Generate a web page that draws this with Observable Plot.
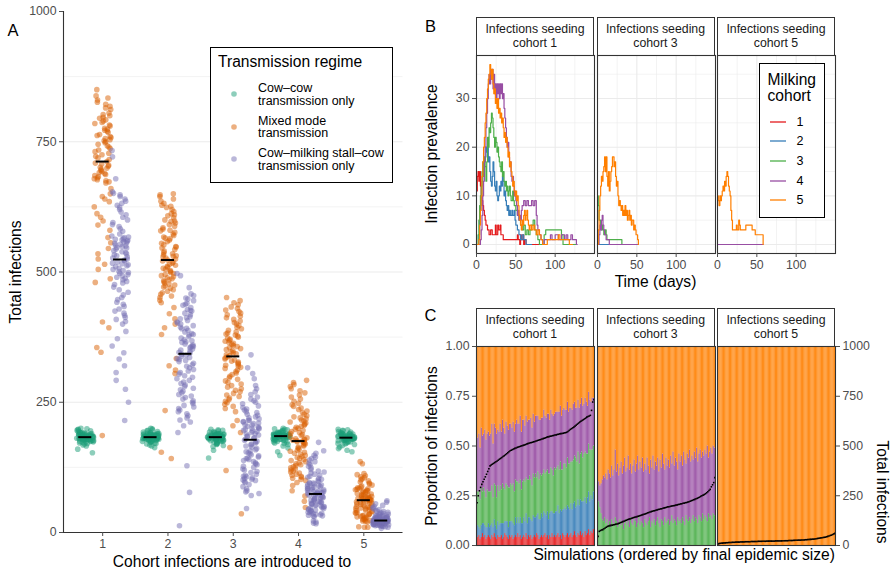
<!DOCTYPE html>
<html lang="en">
<head>
<meta charset="utf-8">
<title>Transmission between milking cohorts</title>
<script src="https://cdn.jsdelivr.net/npm/d3@7"></script>
<script src="https://cdn.jsdelivr.net/npm/@observablehq/plot@0.6"></script>
<style>
  html, body { margin: 0; padding: 0; background: #fff; }
  #fig { position: relative; width: 896px; height: 573px; overflow: hidden; background: #fff;
         font-family: "Liberation Sans", Arial, Helvetica, sans-serif; color: #000; }
  .pos { position: absolute; }
  .pos svg { overflow: visible; display: block; }
  .txt { position: absolute; white-space: nowrap; line-height: 1; }
  .strip { position: absolute; box-sizing: border-box; border: 1px solid #333; background: #fff;
           color: #1a1a1a; font-size: 12.3px; line-height: 14px; text-align: center;
           display: flex; flex-direction: column; justify-content: center; }
  .legend { position: absolute; box-sizing: border-box; border: 1.3px solid #000; background: #fff; }
</style>
</head>
<body>
<div id="fig"></div>
<script>
// ---------- Panel A: total infections per simulation ----------
const cohorts = [1, 2, 3, 4, 5];
const regimes = ["Cow–cow transmission only", "Mixed mode transmission", "Cow–milking stall–cow transmission only"];
const regimeColors = ["#1B9E77", "#D95F02", "#7570B3"];

const cowCowC1 = [153,160,166,168,170,171,172,173,174,174,175,175,176,176,177,177,178,178,178,179,179,179,180,180,180,181,181,181,182,182,182,183,183,183,183,184,184,184,184,185,185,185,186,186,186,187,187,187,188,188,188,189,189,190,190,191,191,192,192,193,194,195,196,197,198,199,200,186,183,181];
const cowCowC2 = [163,166,168,170,171,172,173,174,175,175,176,176,177,177,178,178,179,179,179,180,180,180,181,181,181,182,182,182,183,183,183,184,184,184,184,185,185,185,186,186,186,187,187,187,188,188,189,189,190,190,191,191,192,193,194,195,196,197,199,200,183,185,182,184,186,181,187,188,180,179];
const cowCowC3 = [143,158,165,167,169,170,171,172,173,174,175,175,176,176,177,177,178,178,179,179,180,180,180,181,181,181,182,182,182,183,183,183,184,184,184,185,185,185,186,186,186,187,187,187,188,188,189,189,190,190,191,192,193,194,195,196,197,198,184,182,185,183,186,181,187,188];
const cowCowC4 = [148,155,162,166,169,171,172,173,174,175,176,177,177,178,178,179,179,180,180,181,181,182,182,183,183,183,184,184,184,185,185,185,186,186,186,187,187,187,188,188,188,189,189,190,190,191,191,192,192,193,194,195,196,197,198,199,200,185,186,184,187,183,188,189];
const cowCowC5 = [155,158,161,164,167,169,170,171,172,173,174,175,176,176,177,177,178,178,179,179,180,180,180,181,181,181,182,182,182,183,183,183,184,184,184,185,185,185,186,186,187,187,188,188,189,189,190,190,191,192,193,194,195,196,197,198,182,181,183,184,180,185,179];

const mixedC1 = [850,838,834,830,826,822,818,815,812,805,802,800,797,795,792,790,787,785,782,780,776,774,772,770,768,764,762,760,758,756,754,752,750,748,745,742,740,737,734,731,728,725,722,719,716,712,709,707,705,703,701,699,697,695,693,691,689,687,685,683,681,679,677,675,673,671,660,650,645,640,635,625,612,605,598,590,580,566,556,545,535,525,515,505,487,480,404,393,355,346,186];
const mixedC2 = [650,648,645,640,636,632,628,626,624,620,616,612,610,608,604,600,598,597,594,591,588,585,582,580,579,576,573,570,567,565,564,561,558,555,552,549,548,546,543,540,537,535,533,531,530,529,527,525,523,521,519,517,515,513,511,509,507,505,503,501,499,497,495,493,491,489,487,485,483,481,479,477,475,473,471,469,466,463,460,457,454,451,446,441,432,420,410,400,393,380,334,320,312,305,234,154,142];
const mixedC3 = [451,445,441,437,433,430,427,424,421,418,415,412,409,406,403,400,397,394,391,388,385,383,381,379,377,375,373,371,369,367,365,363,361,359,357,355,353,351,349,347,345,343,341,339,337,335,333,331,329,327,325,323,321,319,317,315,312,309,306,303,300,297,294,291,288,285,282,279,276,273,270,267,264,261,258,255,252,249,246,242,238,232,215,205,192,163,119,36];
const mixedC4 = [292,288,284,280,276,272,268,264,260,256,252,248,245,242,239,236,233,230,227,224,222,220,218,216,214,212,210,208,206,204,202,200,198,196,194,192,190,188,186,184,182,180,179,178,177,176,175,174,173,172,170,168,166,164,162,160,158,156,154,152,150,148,146,144,142,140,138,136,134,132,130,128,126,124,122,120,118,116,114,112,110,108,106,104,102,100,96,90,80,70,60,48];
const mixedC5 = [136,132,113,111,109,107,105,103,101,99,97,95,93,91,89,87,86,85,84,83,82,81,80,79,78,77,76,75,74,73,72,71,70,69,68,67,67,66,66,65,65,64,64,63,63,62,62,61,60,59,58,57,56,55,54,53,52,51,50,49,48,47,46,45,44,43,42,41,40,39,38,37,36,35,34,33,32,31,30,29,28,27,26,25,24,23,22,21,20,11,10,10];

const milkC1 = [215,250,275,292,307,320,333,345,358,372,386,400,405,409,413,417,421,425,429,434,438,442,447,451,456,461,466,471,476,479,482,485,488,490,493,495,497,499,501,503,505,507,510,512,514,516,517,519,521,523,525,527,529,531,533,535,537,539,541,544,546,547,549,550,552,553,555,556,558,559,561,562,563,564,566,567,569,573,578,583,587,591,595,600,605,610,615,620,624,628,632,636,640,645,648,651,654,679,721,733];
const milkC2 = [497,493,470,458,455,450,448,445,440,438,436,432,428,426,425,421,418,414,412,410,407,404,402,400,397,394,392,391,388,385,382,380,379,376,373,370,368,366,365,362,360,358,357,356,354,352,350,348,346,344,342,340,338,336,334,332,330,328,325,322,319,316,313,310,307,304,301,298,295,292,289,286,283,280,277,274,271,268,265,262,259,256,253,250,247,244,241,238,235,232,228,224,220,216,212,205,192,128,77,13];
const milkC3 = [46,71,75,78,80,84,88,92,96,98,100,101,102,104,105,107,108,110,112,115,117,120,122,125,127,130,132,134,136,138,140,142,143,145,147,149,151,153,155,157,159,161,164,166,168,170,172,174,175,177,179,181,182,184,185,187,189,190,192,194,195,196,198,199,200,201,203,204,206,207,209,210,212,213,215,216,218,220,222,225,227,230,232,235,237,240,243,247,250,253,256,260,265,270,276,282,295,305,316,341];
const milkC4 = [173,157,152,148,145,142,139,136,133,130,127,124,121,118,116,114,112,110,108,106,104,102,100,98,96,95,94,93,92,91,90,89,88,87,86,85,84,83,82,81,80,79,78,77,77,76,76,75,74,73,72,71,70,69,68,67,66,65,64,63,62,61,60,59,58,57,56,55,54,53,52,51,50,49,48,47,46,45,44,43,42,41,40,39,38,37,36,35,34,33,32,31,30,22,20,18,17];
const milkC5 = [8,10,11,12,12,13,13,14,14,15,15,15,16,16,16,17,17,17,17,18,18,18,18,19,19,19,19,19,20,20,20,20,20,20,21,21,21,21,21,21,21,22,22,22,22,22,22,22,22,23,23,23,23,23,23,24,24,24,24,24,25,25,25,25,26,26,26,26,27,27,27,28,28,28,29,29,30,30,31,31,32,32,33,34,35,36,37,38,39,40,41,42,44,46,48,50,52,55,58,61];

// ---------- Panel B: infection prevalence by milking cohort, [day, prevalence] steps ----------
const cohortColors = ["#E41A1C", "#377EB8", "#4DAF4A", "#984EA3", "#FF7F00"];
const seed1Cohort1 = [[0,11],[1,14],[2,15],[3,13],[4,15],[5,12],[6,10],[7,9],[8,8],[9,7],[10,6],[11,5],[12,4],[14,3],[16,2],[18,3],[20,2],[23,2],[24,4],[25,2],[27,4],[28,3],[30,4],[31,2],[34,1],[52,2],[53,1],[55,0],[56,2],[57,1],[59,2],[60,0],[61,1],[63,0],[85,0]];
const seed1Cohort2 = [[0,0],[3,2],[4,5],[5,8],[6,10],[7,13],[8,15],[9,14],[10,17],[11,18],[12,20],[13,19],[14,20],[15,17],[16,18],[17,15],[18,13],[19,12],[20,14],[21,17],[22,15],[23,12],[24,11],[25,13],[26,10],[27,9],[28,10],[29,12],[30,11],[31,13],[32,12],[33,14],[34,13],[35,10],[36,11],[37,9],[38,8],[39,7],[40,8],[41,6],[42,7],[43,6],[45,7],[46,6],[48,7],[49,5],[50,4],[52,3],[54,2],[56,1],[58,2],[60,1],[63,0],[70,0]];
const seed1Cohort3 = [[0,0],[2,2],[3,5],[4,8],[5,10],[6,12],[7,15],[8,17],[9,14],[10,18],[11,16],[12,13],[13,17],[14,22],[15,20],[16,24],[17,23],[18,25],[19,27],[20,26],[21,24],[22,22],[23,20],[24,22],[25,21],[26,19],[27,20],[28,18],[29,17],[30,16],[31,15],[32,17],[33,14],[34,15],[35,13],[36,12],[37,13],[38,11],[39,12],[40,10],[41,11],[42,12],[43,10],[44,9],[46,11],[47,9],[48,8],[50,7],[52,6],[54,5],[56,4],[58,3],[60,4],[62,2],[64,3],[66,2],[68,3],[70,4],[72,5],[74,3],[76,2],[78,1],[80,0],[86,2],[88,3],[108,2],[110,0],[127,0]];
const seed1Cohort4 = [[0,0],[5,1],[6,3],[7,6],[8,10],[9,13],[10,17],[11,20],[12,24],[13,27],[14,30],[15,33],[16,35],[17,33],[18,36],[19,34],[20,36],[21,32],[22,35],[23,31],[24,33],[25,30],[26,33],[27,31],[28,33],[29,30],[30,33],[31,31],[32,33],[33,30],[34,31],[35,28],[36,26],[37,24],[38,22],[39,20],[40,21],[41,18],[42,16],[43,17],[44,14],[45,13],[46,14],[47,12],[48,10],[49,11],[50,9],[51,8],[52,6],[53,7],[54,5],[55,6],[56,5],[57,7],[58,8],[60,9],[62,8],[64,9],[66,8],[70,9],[72,8],[74,9],[76,6],[77,4],[78,3],[80,2],[82,1],[84,0],[86,1],[94,2],[96,1],[100,2],[104,1],[108,2],[112,1],[114,2],[116,1],[120,2],[122,1],[127,0],[128,0]];
const seed1Cohort5 = [[0,0],[3,1],[4,4],[5,7],[6,10],[7,14],[8,17],[9,20],[10,22],[11,25],[12,27],[13,30],[14,32],[15,34],[16,35],[17,37],[18,36],[19,34],[20,36],[21,33],[22,31],[23,32],[24,29],[25,30],[26,28],[27,30],[28,27],[29,28],[30,26],[31,27],[32,25],[33,26],[34,24],[35,22],[36,23],[37,21],[38,22],[39,20],[40,18],[41,19],[42,16],[43,17],[44,15],[45,14],[46,12],[47,13],[48,11],[49,10],[50,11],[51,9],[52,10],[53,8],[54,6],[55,5],[56,4],[57,3],[58,5],[59,4],[60,6],[61,7],[62,5],[63,6],[64,7],[65,5],[66,4],[67,3],[68,4],[70,3],[72,4],[74,3],[76,2],[78,3],[80,2],[82,1],[84,0],[90,1],[100,1],[104,2],[106,1],[116,1],[118,0],[122,0]];

const seed3Cohort1 = [[0,0],[15,0]];
const seed3Cohort2 = [[0,0],[16,0]];
const seed3Cohort3 = [[0,10],[1,8],[2,5],[4,4],[5,3],[6,4],[7,3],[8,2],[10,3],[11,2],[12,1],[31,0],[32,0]];
const seed3Cohort4 = [[0,0],[2,2],[3,4],[4,3],[5,5],[6,6],[7,4],[8,3],[9,2],[11,1],[15,0],[52,0]];
const seed3Cohort5 = [[0,0],[1,3],[2,7],[3,10],[4,12],[5,14],[6,13],[7,15],[8,16],[9,18],[10,15],[11,18],[12,14],[13,12],[14,15],[15,11],[16,13],[17,15],[18,16],[19,18],[20,18],[21,16],[22,17],[23,14],[24,12],[25,13],[26,10],[27,8],[28,9],[29,8],[30,7],[31,8],[32,6],[33,7],[34,6],[35,8],[36,6],[37,7],[38,5],[39,6],[40,7],[41,5],[42,6],[43,4],[44,5],[46,3],[47,4],[48,3],[49,2],[51,1],[52,0]];

const seed5Cohort4 = [[0,0],[58,0]];
const seed5Cohort5 = [[0,10],[1,9],[2,8],[3,10],[4,9],[5,10],[6,11],[7,12],[8,11],[9,13],[10,12],[11,14],[12,15],[13,14],[14,12],[15,11],[16,10],[17,7],[18,5],[19,3],[24,4],[25,3],[27,5],[28,4],[29,3],[36,4],[44,3],[48,2],[57,2],[58,0]];

// ---------- Panel C: share of infections (%) by milking cohort, simulations ordered by size ----------
const seed1Share1 = [5,4,5,3,4,6,4,5,3,4,5,4,3,5,4,6,4,3,5,4,4,5,3,4,6,5,4,3,5,4,5,3,4,5,4,6,4,5,3,4,5,4,6,3,5,4,5,3,4,5,4,6,5,3,4,5,4,5,6,4,5,3,5,4,6,4,5,4,5,6,4,5,3,6,5,4,5,6,4,5,6,4,5,7,5,4,6,5,7,5,6,4,7,5,6,8,5,7,6,8];
const seed1Share2 = [5,6,4,5,6,5,7,5,6,5,6,5,7,6,5,7,6,5,7,6,7,6,8,7,6,7,8,6,7,8,7,8,6,9,7,8,7,9,8,7,9,8,10,8,9,10,8,9,11,9,10,9,11,10,9,11,10,12,10,11,12,10,11,13,11,12,11,13,12,14,12,13,14,12,13,15,13,14,15,13,15,14,16,15,14,16,17,15,16,17,16,18,17,16,18,19,17,18,17,19];
const seed1Share3 = [8,17,18,15,19,16,18,17,15,19,16,18,17,19,15,18,20,16,18,17,19,17,20,18,16,19,18,20,17,19,18,20,17,19,21,18,20,19,17,21,19,20,18,22,19,21,20,18,21,20,22,19,21,20,23,19,22,21,20,22,21,23,20,22,21,19,23,21,22,20,22,24,21,20,23,22,21,24,22,23,21,24,22,23,25,22,24,21,23,25,22,24,23,25,22,24,26,23,25,23];
const seed1Share4 = [28,27,29,26,30,28,27,31,29,28,30,28,29,31,27,30,29,32,28,30,31,29,32,30,28,31,30,29,32,30,29,31,30,28,31,29,30,32,29,31,30,28,31,29,30,28,31,29,30,28,29,31,28,30,27,29,28,30,29,27,28,30,27,29,28,30,27,29,28,27,29,28,27,30,28,27,29,28,26,28,27,26,28,27,25,27,26,28,25,27,26,25,27,26,24,26,25,24,26,24];
const seed3Share3 = [25,22,19,16,13,12,14,11,13,10,12,9,13,11,10,14,12,9,11,13,10,12,8,11,13,10,12,9,14,11,10,13,12,9,11,14,10,12,11,9,13,11,10,12,14,9,12,11,13,10,12,14,11,9,13,12,10,14,11,12,13,10,12,15,11,13,12,10,14,12,13,11,14,12,10,15,13,12,14,11,13,15,12,14,13,11,15,14,12,16,13,15,14,12,16,14,15,13,16,15];
const seed3Share4 = [6,10,11,15,20,23,20,25,20,28,24,25,27,24,28,34,25,32,24,26,32,24,32,33,24,29,33,29,27,25,30,30,25,32,34,24,32,27,33,28,28,27,34,28,22,34,27,34,25,32,28,30,26,34,26,34,31,24,33,28,30,29,33,26,36,27,32,32,24,34,29,34,26,35,33,26,33,32,34,31,32,28,35,30,36,31,31,34,32,31,32,33,32,38,28,33,34,33,34,34];

const facetLabels = ["Infections seeding\ncohort 1", "Infections seeding\ncohort 3", "Infections seeding\ncohort 5"];

// ---------- layout helpers ----------
const fig = document.getElementById("fig");
const FONT = '"Liberation Sans", Arial, Helvetica, sans-serif';
const plotStyle = {background: "none", overflow: "visible", fontFamily: FONT, fontSize: "12.3px", color: "#4d4d4d"};
const GRID = "#ebebeb";

function place(node, left, top) {
  const d = document.createElement("div");
  d.className = "pos";
  d.style.left = left + "px";
  d.style.top = top + "px";
  d.appendChild(node);
  fig.appendChild(d);
  return d;
}
function label(str, x, y, {size = 15.6, rotate = 0, anchor = "middle", color = "#000"} = {}) {
  const t = document.createElement("div");
  t.className = "txt";
  t.textContent = str;
  t.style.left = x + "px";
  t.style.top = y + "px";
  t.style.fontSize = size + "px";
  t.style.color = color;
  const tx = anchor === "start" ? "0" : anchor === "end" ? "-100%" : "-50%";
  t.style.transform = `translate(${tx}, -50%)` + (rotate ? ` rotate(${rotate}deg)` : "");
  fig.appendChild(t);
  return t;
}
function strip(text, left, top, width, height) {
  const s = document.createElement("div");
  s.className = "strip";
  Object.assign(s.style, {left: left + "px", top: top + "px", width: width + "px", height: height + "px"});
  for (const line of text.split("\n")) {
    const l = document.createElement("div");
    l.textContent = line;
    s.appendChild(l);
  }
  fig.appendChild(s);
}
function keySvg(w, h, draw) {
  const ns = "http://www.w3.org/2000/svg";
  const svg = document.createElementNS(ns, "svg");
  svg.setAttribute("width", w);
  svg.setAttribute("height", h);
  const el = document.createElementNS(ns, draw.tag);
  for (const [k, v] of Object.entries(draw.attrs)) el.setAttribute(k, v);
  svg.appendChild(el);
  return svg;
}

// deterministic horizontal spread of points inside each dodged group
function spread(i, g) {
  const s = Math.sin((i + 1) * 12.9898 + g * 78.233) * 43758.5453;
  return s - Math.floor(s) - 0.5;
}

// ---------- Panel A ----------
const groupsA = [
  [cowCowC1, cowCowC2, cowCowC3, cowCowC4, cowCowC5],
  [mixedC1, mixedC2, mixedC3, mixedC4, mixedC5],
  [milkC1, milkC2, milkC3, milkC4, milkC5]
];
const dodge = 0.8 / 3;
const aRows = [], aMedians = [];
groupsA.forEach((byCohort, r) => {
  byCohort.forEach((values, ci) => {
    const center = cohorts[ci] + (r - 1) * dodge;
    values.forEach((v, i) => aRows.push({regime: r, cohort: cohorts[ci], total: v, x: center + spread(i, r * 5 + ci) * 0.26}));
    aMedians.push({regime: r, x: center, median: d3.median(values)});
  });
});

const A = {left: 62.5, top: 11, width: 339.5, height: 521};
place(Plot.plot({
  width: A.width, height: A.height, margin: 0, style: plotStyle,
  x: {domain: [0.4, 5.6], axis: null},
  y: {domain: [0, 1000], axis: null},
  color: {type: "ordinal", domain: [0, 1, 2], range: regimeColors},
  marks: [
    Plot.ruleY([125, 375, 625, 875], {stroke: GRID, strokeWidth: 0.6}),
    Plot.ruleY([250, 500, 750], {stroke: GRID, strokeWidth: 1.1}),
    Plot.dot(aRows, {x: "x", y: "total", fill: "regime", r: 2.8, fillOpacity: 0.5}),
    Plot.ruleY(aMedians, {y: "median", x1: d => d.x - 0.1, x2: d => d.x + 0.1, stroke: "#000", strokeWidth: 2}),
    Plot.ruleX([0.4], {stroke: "#333", strokeWidth: 1.1}),
    Plot.ruleY([0], {stroke: "#333", strokeWidth: 1.1}),
    Plot.axisY({ticks: [0, 250, 500, 750, 1000], tickFormat: d => String(d), tickSize: 4, tickPadding: 3, label: null}),
    Plot.axisX({ticks: cohorts, tickFormat: d => String(d), tickSize: 4, tickPadding: 3, label: null})
  ]
}), A.left, A.top);

label("A", 13, 29.5, {size: 16.5});
label("Total infections", 16, 271.5, {rotate: -90});
label("Cohort infections are introduced to", 232, 561.5);

// legend for panel A
const legA = document.createElement("div");
legA.className = "legend";
Object.assign(legA.style, {left: "210px", top: "47px", width: "183px", height: "136px"});
fig.appendChild(legA);
label("Transmission regime", 218, 62, {anchor: "start"});
const legAText = [["Cow–cow", "transmission only"], ["Mixed mode", "transmission"], ["Cow–milking stall–cow", "transmission only"]];
const legAY = [94.3, 126.7, 159];
legAText.forEach((lines, k) => {
  place(keySvg(10, 10, {tag: "circle", attrs: {cx: 5, cy: 5, r: 2.8, fill: regimeColors[k], "fill-opacity": 0.5}}), 229, legAY[k] - 5);
  label(lines[0], 258, legAY[k] - 6.2, {size: 12.5, anchor: "start"});
  label(lines[1], 258, legAY[k] + 6.6, {size: 12.5, anchor: "start"});
});

// ---------- Panel B ----------
const facetLeft = [476, 596.5, 717];
const facetW = 118;
const B = {top: 55, height: 198};
const prevalence = [
  [seed1Cohort1, seed1Cohort2, seed1Cohort3, seed1Cohort4, seed1Cohort5],
  [seed3Cohort1, seed3Cohort2, seed3Cohort3, seed3Cohort4, seed3Cohort5],
  [null, null, null, seed5Cohort4, seed5Cohort5]
];
prevalence.forEach((series, f) => {
  const rows = [];
  series.forEach((pts, k) => {
    if (pts) for (const [t, v] of pts) rows.push({t, v, cohort: k + 1});
  });
  strip(facetLabels[f], facetLeft[f], 17, facetW, 38.5);
  place(Plot.plot({
    width: facetW, height: B.height, margin: 0, style: plotStyle,
    x: {domain: [0, 150], axis: null},
    y: {domain: [-1.85, 38.85], axis: null},
    color: {type: "ordinal", domain: cohorts, range: cohortColors},
    marks: [
      Plot.ruleX([25, 75, 125], {stroke: GRID, strokeWidth: 0.6}),
      Plot.ruleY([5, 15, 25, 35], {stroke: GRID, strokeWidth: 0.6}),
      Plot.ruleX([0, 50, 100], {stroke: GRID, strokeWidth: 1.1}),
      Plot.ruleY([0, 10, 20, 30], {stroke: GRID, strokeWidth: 1.1}),
      Plot.line(rows, {x: "t", y: "v", z: "cohort", stroke: "cohort", curve: "step-after", strokeWidth: 1.2}),
      Plot.frame({stroke: "#333", strokeWidth: 1.1}),
      Plot.axisX({ticks: [0, 50, 100], tickFormat: d => String(d), tickSize: 4, tickPadding: 3, label: null}),
      f === 0 ? Plot.axisY({ticks: [0, 10, 20, 30], tickFormat: d => String(d), tickSize: 4, tickPadding: 3, label: null}) : null
    ]
  }), facetLeft[f], B.top);
});

label("B", 430.5, 26, {size: 16.5});
label("Infection prevalence", 431.6, 154, {rotate: -90});
label("Time (days)", 655.5, 282);

// legend for panel B
const legB = document.createElement("div");
legB.className = "legend";
Object.assign(legB.style, {left: "759px", top: "63px", width: "66px", height: "155px"});
fig.appendChild(legB);
label("Milking", 767.5, 79.7, {anchor: "start"});
label("cohort", 767.5, 96.2, {anchor: "start"});
const legBY = [121.7, 141.3, 161, 180.7, 200.3];
cohorts.forEach((c, k) => {
  place(keySvg(18, 4, {tag: "line", attrs: {x1: 1, x2: 17, y1: 2, y2: 2, stroke: cohortColors[k], "stroke-width": 1.3}}), 769, legBY[k] - 2);
  label(String(c), 796.5, legBY[k], {size: 12.5, anchor: "start"});
});

// ---------- Panel C ----------
const C = {top: 346, height: 199};
const shareSets = [
  [seed1Share1, seed1Share2, seed1Share3, seed1Share4],
  [null, null, seed3Share3, seed3Share4],
  [null, null, null, null]
];
const finalSizes = [d3.sort(milkC1), d3.sort(milkC3), d3.sort(milkC5)];
shareSets.forEach((shares, f) => {
  const sizes = finalSizes[f];
  const n = sizes.length;
  const rows = [];
  for (let i = 0; i < n; ++i) {
    let used = 0;
    shares.forEach((arr, k) => {
      const s = arr ? arr[i] : 0;
      used += s;
      rows.push({sim: i, cohort: k + 1, share: s / 100});
    });
    rows.push({sim: i, cohort: 5, share: (100 - used) / 100});
  }
  strip(facetLabels[f], facetLeft[f], 308, facetW, 38.5);
  place(Plot.plot({
    width: facetW, height: C.height, margin: 0, style: plotStyle,
    x: {type: "band", domain: d3.range(n), padding: 0, round: false, axis: null},
    y: {domain: [0, 1], axis: null},
    color: {type: "ordinal", domain: cohorts, range: cohortColors},
    marks: [
      Plot.barY(rows, {x: "sim", y: "share", fill: "cohort", fillOpacity: 0.9}),
      Plot.dot(sizes, {x: (d, i) => i, y: d => d / 1000, r: 0.9, fill: "#000", symbol: "square"}),
      Plot.frame({stroke: "#333", strokeWidth: 1.1}),
      f === 0 ? Plot.axisY({ticks: [0, 0.25, 0.5, 0.75, 1], tickFormat: d3.format(".2f"), tickSize: 4, tickPadding: 3, label: null}) : null,
      f === 2 ? Plot.axisY({anchor: "right", ticks: [0, 0.25, 0.5, 0.75, 1], tickFormat: d => String(Math.round(d * 1000)), tickSize: 4, tickPadding: 3, label: null}) : null
    ]
  }), facetLeft[f], C.top);
});

label("C", 430.5, 315, {size: 16.5});
label("Proportion of infections", 431.6, 445.5, {rotate: -90});
label("Total infections", 882, 492, {rotate: 90});
label("Simulations (ordered by final epidemic size)", 835, 554.7, {anchor: "end"});
</script>
</body>
</html>
